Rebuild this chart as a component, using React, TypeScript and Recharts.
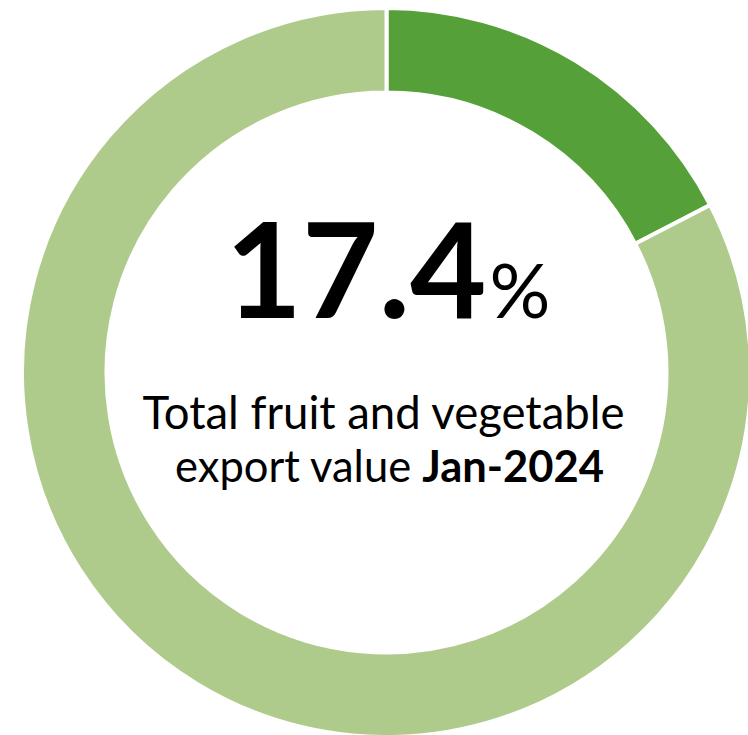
import { PieChart, Pie, Cell, Label } from "recharts";

const SEGMENTS = ["Jan-2024 share", "Rest of total"];
const VALUES = [17.4, 82.6];
const COLORS = ["#56A03A", "#AFCB8B"];
const HEADLINE = "17.4";
const CAPTION_1 = "Total fruit and vegetable";
const CAPTION_2 = "export value ";
const CAPTION_BOLD = "Jan-2024";

const data = SEGMENTS.map((name, i) => ({ name, value: VALUES[i] }));

const FONT = "Lato, 'Open Sans', sans-serif";
const CX = 386.5;
const CY = 372.5;

function CenterText() {
  return (
    <g fontFamily={FONT} fill="#000">
      <text x={CX + 1.5} y={CY - 55} textAnchor="middle">
        <tspan fontSize={132} fontWeight={700}>{HEADLINE}</tspan>
        <tspan fontSize={76} fontWeight={400} dx={3}>%</tspan>
      </text>
      <text x={CX - 3} y={CY + 56} textAnchor="middle" fontSize={45.5}>
        {CAPTION_1}
      </text>
      <text x={CX + 3} y={CY + 109} textAnchor="middle" fontSize={43.5}>
        {CAPTION_2}
        <tspan fontWeight={700}>{CAPTION_BOLD}</tspan>
      </text>
    </g>
  );
}

export default function App() {
  return (
    <div style={{ position: "absolute", left: 0, top: 0, width: 748, height: 735, background: "#fff" }}>
      <PieChart width={748} height={735} margin={{ top: 0, right: 0, bottom: 0, left: 0 }}>
        <Pie
          data={data}
          dataKey="value"
          nameKey="name"
          cx={CX}
          cy={CY}
          innerRadius={280}
          outerRadius={364.5}
          startAngle={90}
          endAngle={-270}
          stroke="#fff"
          strokeWidth={4}
          isAnimationActive={false}
        >
          {data.map((d, i) => (
            <Cell key={d.name} fill={COLORS[i]} />
          ))}
          <Label position="center" content={CenterText} />
        </Pie>
      </PieChart>
    </div>
  );
}
